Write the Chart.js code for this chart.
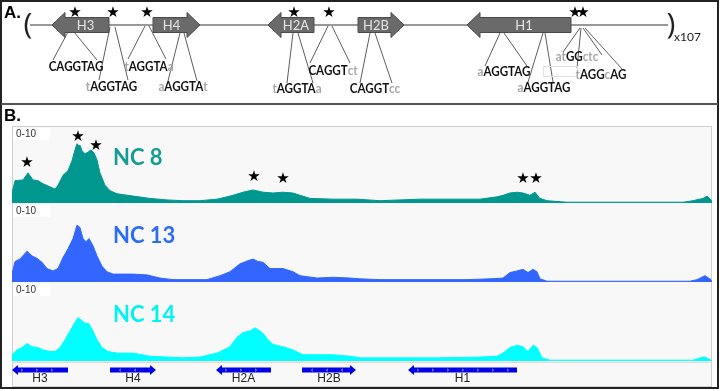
<!DOCTYPE html>
<html><head><meta charset="utf-8">
<script src="https://cdn.jsdelivr.net/npm/chart.js@4.4.1/dist/chart.umd.min.js"></script>
<style>html,body{margin:0;padding:0;background:#fff;overflow:hidden}canvas{display:block}</style>
</head><body>
<canvas id="c" width="720" height="391"></canvas>
<script>
// ---- Panel B: coverage tracks (positions along locus, values on 0-10 scale) ----
const nc8Pos = [0,3,11,16,21,26,31,38,43,46,51,56,60,63,65,67,68,70,73,76,79,82,85,88,93,98,105,121,138,155,171,188,205,215,221,231,241,251,261,271,281,288,298,321,345,368,388,408,428,448,468,485,491,498,505,511,518,523,528,535,555,588,638,671,681,691,695,699,700];
const nc8Val = [1.3,2.9,3.0,3.9,3.0,2.9,2.5,2.1,1.8,2.3,3.6,4.2,5.5,6.9,7.7,7.4,7.5,6.8,6.4,6.6,6.9,6.5,5.6,3.9,2.3,1.6,1.2,0.9,0.6,0.4,0.3,0.3,0.5,0.8,1.0,1.4,1.7,1.4,1.3,1.4,1.3,1.0,0.6,0.5,0.5,0.3,0.4,0.5,0.5,0.5,0.5,0.8,1.0,1.3,1.4,1.3,1.0,1.4,0.6,0.3,0.1,0.1,0.1,0.1,0.3,0.6,0.9,0.4,0];
const nc13Pos = [0,3,8,15,20,25,30,35,41,46,51,56,61,65,68,71,74,77,81,85,90,95,101,121,135,148,161,181,195,208,218,228,236,241,246,251,258,271,281,288,305,321,338,348,368,408,428,455,478,491,498,505,511,516,521,525,528,535,588,668,678,685,693,699,700];
const nc13Val = [1.0,2.6,2.9,3.9,3.3,3.0,2.5,1.7,1.4,1.7,3.1,4.2,5.5,7.2,6.9,5.5,5.1,5.5,4.6,3.3,2.0,1.3,1.0,1.0,0.9,0.5,0.3,0.3,0.3,0.8,1.3,2.3,2.7,2.9,2.6,2.5,1.7,1.7,1.3,0.8,0.5,0.6,0.5,0.4,0.3,0.3,0.3,0.3,0.4,0.5,1.2,1.4,1.6,1.2,1.6,1.3,0.4,0.1,0.1,0.1,0.1,0.3,0.8,0.3,0];
const nc14Pos = [0,5,10,15,20,26,31,38,43,48,53,58,63,66,70,73,77,81,85,90,96,105,121,138,155,171,188,205,218,225,231,238,243,248,251,256,261,271,281,291,305,321,338,348,388,428,468,485,491,498,505,511,516,521,525,530,538,588,668,681,688,693,699,700];
const nc14Val = [0.8,1.4,1.7,2.2,1.8,1.7,1.4,1.2,1.2,1.7,2.7,3.8,4.9,5.5,5.1,4.8,4.7,3.8,2.7,1.7,1.2,1.0,1.0,0.6,0.5,0.4,0.5,1.0,1.8,3.0,3.6,3.8,4.2,3.8,3.5,2.7,2.1,1.8,1.4,0.8,0.8,0.8,0.6,0.4,0.4,0.4,0.5,0.6,1.0,1.7,2.0,1.8,1.2,2.0,1.7,0.4,0.1,0.1,0.1,0.1,0.4,0.5,0.1,0];
const trackNames = ['NC 8','NC 13','NC 14'];
const trackRange = '0-10';
// stars over NC 8 peaks (position, value)
const starPosB = [15,66,84,242,271,511,524];
const starValB = [5.2,8.6,7.4,3.4,3.1,3.1,3.1];
// gene annotation (Panel B)
const geneNames = ['H3','H4','H2A','H2B','H1'];
const geneStartB = [0,98,204,290,396];
const geneEndB   = [56,144,259,344,505];
const geneStrand = [-1,1,-1,1,-1];
// ---- Panel A: schematic repeat ----
const geneStartA = [40,141,256,346,455];
const geneEndA   = [97,188,302,392,559];
const backboneA = [18,656];
const starPosA = [63,101,135,282,317,563,571];
const repeatCount = 'x107';

const labelsA = [
  {seg:[['CAGGTAG',1]], x:64, y:71, l:[[56,32,41,60],[62,32,85,60]]},
  {seg:[['t',0],['AGGTAG',1]], x:99.5, y:91, l:[[98,27,87,80],[103,27,116,80]]},
  {seg:[['t',0],['AGGTA',1],['a',0]], x:137, y:71, l:[[133,26,116,59],[137,26,154,59]]},
  {seg:[['a',0],['AGGTA',1],['t',0]], x:171, y:91, l:[[168,33,156,81],[172,33,185,81]]},
  {seg:[['t',0],['AGGTA',1],['a',0]], x:285, y:93, l:[[281,33,275,83],[286,33,301,83]]},
  {seg:[['CAGGT',1],['ct',0]], x:321, y:75, l:[[316,26,298,63],[320,26,338,63]]},
  {seg:[['CAGGT',1],['cc',0]], x:363, y:93, l:[[358,33,348,83],[363,33,380,83]]},
  {seg:[['a',0],['AGGTAG',1]], x:492, y:76, l:[[488,33,473,66],[492,33,515,66]]},
  {seg:[['a',0],['AGGTAG',1]], x:532, y:92, l:[[531,33,516,82],[533,33,541,82]]},
  {seg:[['at',0],['GG',1],['ctc',0]], x:565, y:61, l:[[568,28,551,52],[571,28,590,55]]},
  {seg:[['t',0],['AGG',1],['c',0],['AG',1]], x:589, y:79, l:[[569,28,565,68],[573,28,610,69]]}
];

const colNC = ['#00978f','#3366ff','#00ffff'];
const colLab = ['#139c94','#2b6cf6','#00f2f2'];

function mk(pos, val){ return pos.map((p,i)=>({x:p, y:val[i]})); }

function blockArrow(ctx, a, b, dir, yc, bodyH, headH, headL){
  const l = Math.min(a,b), r = Math.max(a,b);
  ctx.beginPath();
  if (dir < 0) {
    ctx.moveTo(l, yc);
    ctx.lineTo(l+headL, yc-headH/2);
    ctx.lineTo(l+headL, yc-bodyH/2);
    ctx.lineTo(r, yc-bodyH/2);
    ctx.lineTo(r, yc+bodyH/2);
    ctx.lineTo(l+headL, yc+bodyH/2);
    ctx.lineTo(l+headL, yc+headH/2);
  } else {
    ctx.moveTo(r, yc);
    ctx.lineTo(r-headL, yc-headH/2);
    ctx.lineTo(r-headL, yc-bodyH/2);
    ctx.lineTo(l, yc-bodyH/2);
    ctx.lineTo(l, yc+bodyH/2);
    ctx.lineTo(r-headL, yc+bodyH/2);
    ctx.lineTo(r-headL, yc+headH/2);
  }
  ctx.closePath();
}

function line(ctx,x1,y1,x2,y2){ctx.beginPath();ctx.moveTo(x1,y1);ctx.lineTo(x2,y2);ctx.stroke();}

const backPlugin = {
  id:'backPlugin',
  beforeDatasetsDraw(chart){
    const ctx = chart.ctx, a = chart.chartArea;
    ctx.save();
    ctx.fillStyle = '#f8f8f8';
    ctx.fillRect(a.left, a.top, a.right-a.left, a.bottom-a.top);
    ctx.strokeStyle = '#cfcfcf'; ctx.lineWidth = 1;
    ctx.strokeRect(a.left+0.5, a.top+0.5, a.right-a.left-1, a.bottom-a.top-1);
    const yg = chart.scales.yg;
    ctx.strokeStyle = '#dadada';
    line(ctx, a.left, yg.top+1.5, a.right, yg.top+1.5);
    ctx.restore();
  },
  afterDatasetsDraw(chart){
    const ctx = chart.ctx, xs = chart.scales.x, a = chart.chartArea;
    const X = v => xs.getPixelForValue(v);
    ctx.save();
    // track labels
    ['y1','y2','y3'].forEach((id,i)=>{
      const s = chart.scales[id];
      ctx.fillStyle = '#fff';
      ctx.fillRect(a.left+1, s.top+2, 37, 12);
      ctx.fillStyle = '#333';
      ctx.font = '10px "Liberation Sans", Arial, sans-serif';
      ctx.textBaseline = 'middle'; ctx.textAlign = 'left';
      ctx.fillText(trackRange, a.left+4, s.top+8);
      ctx.fillStyle = colLab[i];
      ctx.font = 'bold 22px Lato, "Open Sans", sans-serif';
      ctx.textBaseline = 'alphabetic';
      ctx.fillText(trackNames[i], X(101), s.getPixelForValue(5.0));
    });
    // stars over NC 8
    const y1 = chart.scales.y1;
    ctx.fillStyle = '#000';
    ctx.font = '15px "DejaVu Sans", sans-serif';
    ctx.textAlign = 'center'; ctx.textBaseline = 'middle';
    starPosB.forEach((p,i)=> ctx.fillText('\u2605', X(p), y1.getPixelForValue(starValB[i])));
    // genes
    const yg = chart.scales.yg;
    const yc = yg.getPixelForValue(0.65);
    geneNames.forEach((g,i)=>{
      const x0 = X(geneStartB[i]), x1 = X(geneEndB[i]);
      ctx.fillStyle = '#0000e6';
      blockArrow(ctx, x0, x1, geneStrand[i], yc, 5, 10, 6);
      ctx.fill();
      ctx.strokeStyle = 'rgba(255,255,255,0.85)'; ctx.lineWidth = 0.7;
      for (let xx = Math.min(x0,x1)+10; xx < Math.max(x0,x1)-8; xx += 15) {
        const d = geneStrand[i];
        ctx.beginPath(); ctx.moveTo(xx+d*1, yc-1.2); ctx.lineTo(xx-d*0.6, yc); ctx.lineTo(xx+d*1, yc+1.2); ctx.stroke();
      }
      ctx.fillStyle = '#222';
      ctx.font = '12px "Liberation Sans", Arial, sans-serif';
      ctx.textAlign = 'center'; ctx.textBaseline = 'alphabetic';
      ctx.fillText(g, (x0+x1)/2, yg.getPixelForValue(0.18));
    });
    ctx.restore();
  },
  afterDraw(chart){
    const ctx = chart.ctx, xs = chart.scales.x;
    const X = v => xs.getPixelForValue(v);
    ctx.save();
    // frame & panel separator
    ctx.strokeStyle = '#222'; ctx.lineWidth = 2;
    ctx.strokeRect(1, 1, 717, 387);
    ctx.fillStyle = '#555'; ctx.fillRect(1, 103, 717, 2);
    ctx.fillStyle = '#000';
    ctx.font = 'bold 17px "Liberation Sans", Arial, sans-serif';
    ctx.textAlign = 'left'; ctx.textBaseline = 'alphabetic';
    ctx.fillText('A.', 4, 18);
    ctx.fillText('B.', 4, 121);
    // backbone
    const yA = 25;
    ctx.strokeStyle = '#777'; ctx.lineWidth = 1.5;
    line(ctx, X(backboneA[0]), yA, X(backboneA[1]), yA);
    // leader lines
    ctx.strokeStyle = '#333'; ctx.lineWidth = 0.8;
    labelsA.forEach(L => L.l.forEach(s => line(ctx, X(s[0]), s[1], X(s[2]), s[3])));
    // faint box
    ctx.strokeStyle = '#e2e2e2'; ctx.lineWidth = 1;
    ctx.strokeRect(X(531)+0.5, 66.5, X(565)-X(531), 10);
    // arrows
    geneNames.forEach((g,i)=>{
      const x0 = X(geneStartA[i]), x1 = X(geneEndA[i]);
      ctx.fillStyle = '#6a6a6a'; ctx.strokeStyle = '#4a4a4a'; ctx.lineWidth = 1;
      blockArrow(ctx, x0, x1, geneStrand[i], yA, 15, 25, 13);
      ctx.fill(); ctx.stroke();
      ctx.fillStyle = '#e6e6e6';
      ctx.font = '13px Lato, "Open Sans", sans-serif';
      ctx.textAlign = 'center'; ctx.textBaseline = 'middle';
      const cx = geneStrand[i] < 0 ? (x0+x1)/2 + 5 : (x0+x1)/2 - 5;
      ctx.fillText(g, cx, yA+1);
    });
    // parentheses and copy number
    ctx.fillStyle = '#222';
    ctx.font = '30px "Open Sans", sans-serif';
    ctx.textAlign = 'center'; ctx.textBaseline = 'middle';
    ctx.fillText('(', X(backboneA[0])-2, yA);
    ctx.fillText(')', X(backboneA[1])+3, yA);
    ctx.font = '12px Lato, "Open Sans", sans-serif';
    ctx.textAlign = 'left'; ctx.textBaseline = 'alphabetic';
    ctx.fillText(repeatCount, X(backboneA[1])+6, 41);
    // stars
    ctx.fillStyle = '#000';
    ctx.font = '15px "DejaVu Sans", sans-serif';
    ctx.textAlign = 'center'; ctx.textBaseline = 'middle';
    starPosA.forEach(p => ctx.fillText('\u2605', X(p), 13));
    // sequence labels (slightly condensed, like the original narrow bold face)
    ctx.font = 'bold 13.5px Lato, "Open Sans", sans-serif';
    ctx.textBaseline = 'alphabetic'; ctx.textAlign = 'left';
    const k = 0.86;
    labelsA.forEach(L => {
      const w = k * L.seg.reduce((s,t)=> s + ctx.measureText(t[0]).width, 0);
      let x = X(L.x) - w/2;
      L.seg.forEach(t => {
        ctx.fillStyle = t[1] ? '#111' : '#a8a8a8';
        ctx.save();
        ctx.translate(x, L.y); ctx.scale(k, 1);
        ctx.fillText(t[0], 0, 0);
        ctx.restore();
        x += k * ctx.measureText(t[0]).width;
      });
    });
    ctx.restore();
  }
};

const ds = (name, pos, val, i, axis) => ({
  label: name, data: mk(pos, val), yAxisID: axis,
  fill: 'origin', backgroundColor: colNC[i], borderColor: colNC[i],
  borderWidth: 1, pointRadius: 0, tension: 0
});

const hidden = {display:false};
new Chart(document.getElementById('c'), {
  type: 'line',
  data: { datasets: [
    ds(trackNames[0], nc8Pos, nc8Val, 0, 'y1'),
    ds(trackNames[1], nc13Pos, nc13Val, 1, 'y2'),
    ds(trackNames[2], nc14Pos, nc14Val, 2, 'y3')
  ]},
  options: {
    responsive: false, animation: false, devicePixelRatio: 1,
    layout: { padding: { left: 12, right: 8, top: 126, bottom: 4 } },
    plugins: { legend: hidden, tooltip: { enabled: false } },
    scales: {
      x: { type: 'linear', min: 0, max: 700, display: false },
      y1: { stack: 'trk', stackWeight: 77, weight: 4, min: 0, max: 10, display: false },
      y2: { stack: 'trk', stackWeight: 79, weight: 3, min: 0, max: 10, display: false },
      y3: { stack: 'trk', stackWeight: 79, weight: 2, min: 0, max: 10, display: false },
      yg: { stack: 'trk', stackWeight: 26, weight: 1, min: 0, max: 1, display: false }
    }
  },
  plugins: [backPlugin]
});
</script></body></html>
